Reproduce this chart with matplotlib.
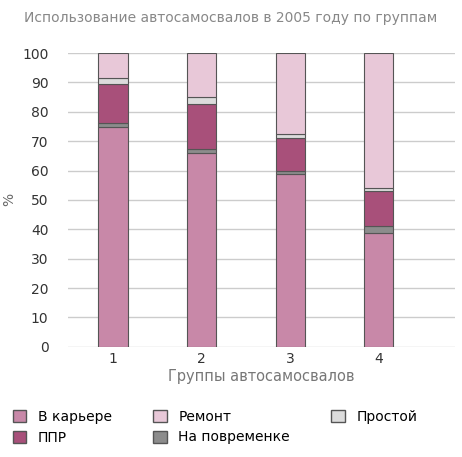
import matplotlib
matplotlib.use("Agg")
import matplotlib.pyplot as plt
import numpy as np
from matplotlib.patches import Patch

groups = ["1", "2", "3", "4"]
karier = [74.9, 66.1, 58.8, 38.6]
povrem = [1.4, 1.4, 0.9, 2.4]
ppr = [13.0, 15.3, 11.5, 12.1]
prostoy = [2.2, 2.3, 1.2, 0.9]
remont = [8.5, 14.9, 27.6, 46.0]

series = [("В карьере", karier, "#c888a8"),
          ("На повременке", povrem, "#8c8c8c"),
          ("ППР", ppr, "#a8507a"),
          ("Простой", prostoy, "#dcdcdc"),
          ("Ремонт", remont, "#e8c8d8")]

fig = plt.figure(figsize=(4.62, 4.57), dpi=100)
ax = fig.add_axes([0.147, 0.241, 0.838, 0.643])
x = np.arange(1, 5)
bottom = np.zeros(4)
for name, vals, col in series:
    ax.bar(x, vals, 0.33, bottom=bottom, color=col, edgecolor="#555555", linewidth=0.8, zorder=3)
    bottom += np.array(vals)
ax.set_xlim(0.49, 4.86)
ax.set_ylim(0, 100)
ax.set_yticks(range(0, 101, 10))
ax.set_xticks(x)
ax.set_xticklabels(groups)
ax.grid(axis="y", color="#cccccc", linewidth=1, zorder=0)
for s in ax.spines.values():
    s.set_visible(False)
ax.tick_params(length=0, colors="#333333", labelsize=10)
ax.tick_params(axis="y", pad=14)
ax.set_ylabel("%", color="#666666", fontsize=10)
ax.set_xlabel("Группы автосамосвалов", color="#777777", fontsize=10.5, labelpad=2)
fig.text(0.5, 0.975, "Использование автосамосвалов в 2005 году по группам",
         ha="center", va="top", color="#888888", fontsize=10)
handles = [Patch(facecolor=c, edgecolor="#555555", label=n) for n, v, c in
           [series[0], series[2], series[4], series[1], series[3]]]
fig.legend(handles=handles, loc="lower left", bbox_to_anchor=(0.0, 0.0), ncol=3,
           frameon=False, fontsize=10, handlelength=1.0, handleheight=1.0,
           columnspacing=3.0, handletextpad=0.8)
fig.savefig("out.png")
